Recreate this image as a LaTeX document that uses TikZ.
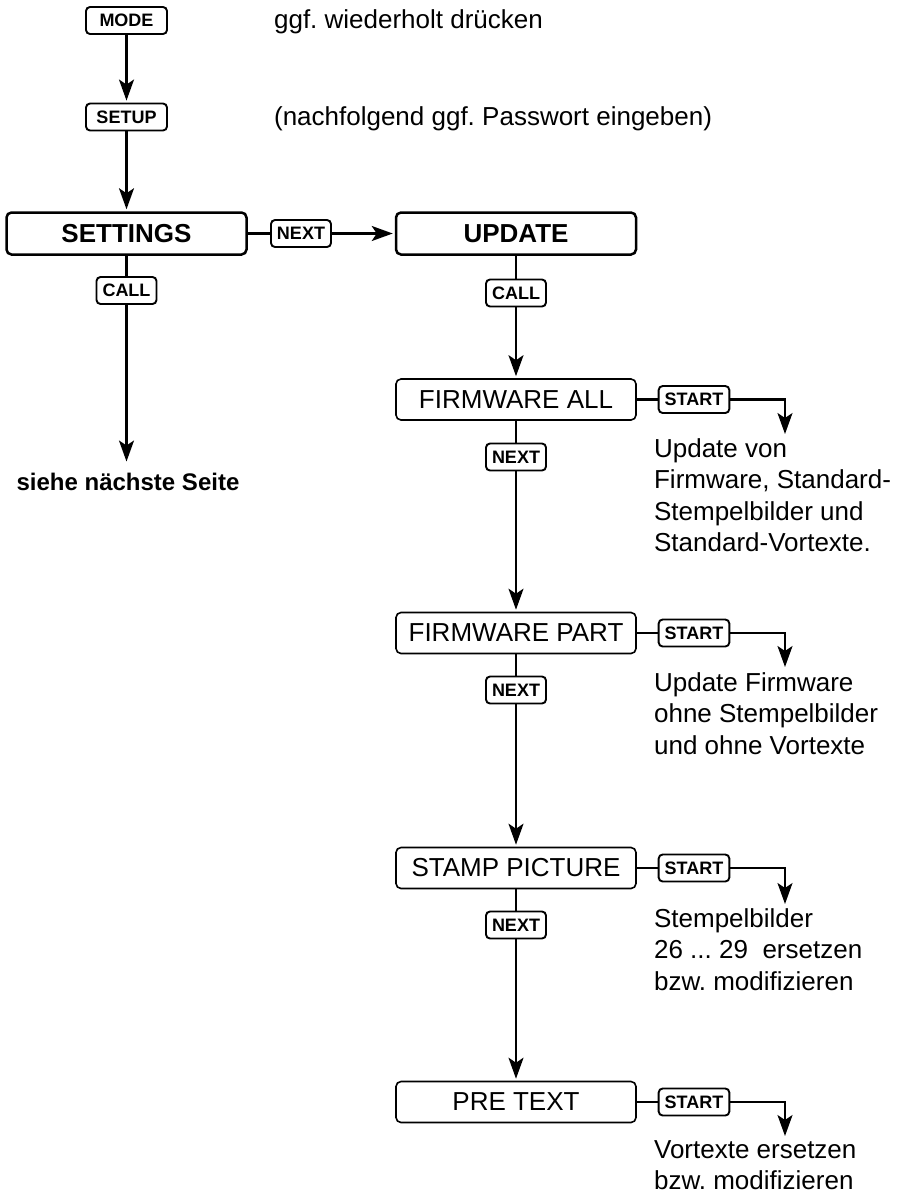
\documentclass[tikz,border=0pt]{standalone}
\usepackage{fontspec}
\setmainfont{Liberation Sans}
\usetikzlibrary{arrows.meta}
\frenchspacing
\tikzset{keybtn/.style={draw,rounded corners=4pt,line width=1.9pt,fill=white,font=\fontsize{18}{20}\selectfont\bfseries,minimum height=27pt,inner xsep=6pt,inner ysep=0pt},
  mainbox/.style={draw,rounded corners=5pt,line width=2.5pt,fill=white,minimum width=240pt,minimum height=42pt,font=\fontsize{26}{30}\selectfont\bfseries},
  menubox/.style={draw,rounded corners=5pt,line width=1.6pt,fill=white,minimum width=240pt,minimum height=41pt,font=\fontsize{26}{30}\selectfont},
  note/.style={anchor=north west,inner sep=0pt,font=\fontsize{26}{31.5}\selectfont,align=left},
  hint/.style={anchor=base west,inner sep=0pt,font=\fontsize{26}{31.5}\selectfont},
  arr/.style={-{Stealth[length=21pt,width=15pt,inset=5pt]},shorten >=2pt}}

\begin{document}
\begin{tikzpicture}[x=1pt,y=-1pt,line width=2.2pt]
    \useasboundingbox (0,0) rectangle (902,1195);

    % left column
    \node[keybtn,minimum width=81pt] (mode) at (126.5,20.5) {MODE};
    \node[keybtn,minimum width=81pt] (setup) at (126.5,117) {SETUP};
    \node[mainbox] (settings) at (126.5,233.5) {SETTINGS};
    \node[keybtn] (callS) at (126.5,290.5) {CALL};
    \node[font=\fontsize{24}{28}\selectfont\bfseries,anchor=base,inner sep=8pt] (siehe) at (128,490) {siehe nächste Seite};

    \node[hint] (hintA) at (273,28) {ggf. wiederholt drücken};
    \node[hint] (hintB) at (273,125) {(nachfolgend ggf. Passwort eingeben)};

    % right column
    \node[keybtn] (nextH) at (301,233.5) {NEXT};
    \node[mainbox] (update) at (516,233.5) {UPDATE};
    \node[keybtn] (callU) at (516,293) {CALL};

    \node[menubox] (fwall) at (516,399.5) {FIRMWARE ALL};
    \node[keybtn] (nextA) at (516,457) {NEXT};
    \node[menubox] (fwpart) at (516,633) {FIRMWARE PART};
    \node[keybtn] (nextB) at (516,690) {NEXT};
    \node[menubox] (stamp) at (516,868) {STAMP PICTURE};
    \node[keybtn] (nextC) at (516,925) {NEXT};
    \node[menubox] (pretext) at (516,1102) {PRE TEXT};

    \node[keybtn] (startA) at (694,399.5) {START};
    \node[keybtn] (startB) at (694,633) {START};
    \node[keybtn] (startC) at (694,868) {START};
    \node[keybtn] (startD) at (694,1102) {START};

    \coordinate (tipA) at (785,434);
    \coordinate (tipB) at (785,667);
    \coordinate (tipC) at (785,904);
    \coordinate (tipD) at (785,1136);

    \node[note] (infoA) at (653,434) {\strut Update von\\Firmware, Standard-\\Stempelbilder und\\Standard-Vortexte.};
    \node[note] (infoB) at (653,668) {\strut Update Firmware\\ohne Stempelbilder\\und ohne Vortexte};
    \node[note] (infoC) at (653,904) {\strut Stempelbilder\\26 ... 29\ \ ersetzen\\bzw. modifizieren};
    \node[note] (infoD) at (653,1135) {\strut Vortexte ersetzen\\bzw. modifizieren};

    % connectors
    \draw[arr] (mode) -- (setup);
    \draw[arr] (setup) -- (settings);
    \draw (settings) -- (callS);
    \draw[arr] (callS) -- (callS |- siehe.north);
    \draw (settings) -- (nextH);
    \draw[arr] (nextH) -- (update);
    \draw (update) -- (callU);
    \draw[arr] (callU) -- (fwall);
    \draw (fwall) -- (nextA);
    \draw[arr] (nextA) -- (fwpart);
    \draw (fwpart) -- (nextB);
    \draw[arr] (nextB) -- (stamp);
    \draw (stamp) -- (nextC);
    \draw[arr] (nextC) -- (pretext);

    \draw (fwall) -- (startA);
    \draw[arr,shorten >=0pt] (startA) -| (tipA);
    \draw (fwpart) -- (startB);
    \draw[arr,shorten >=0pt] (startB) -| (tipB);
    \draw (stamp) -- (startC);
    \draw[arr,shorten >=0pt] (startC) -| (tipC);
    \draw (pretext) -- (startD);
    \draw[arr,shorten >=0pt] (startD) -| (tipD);
\end{tikzpicture}
\end{document}
